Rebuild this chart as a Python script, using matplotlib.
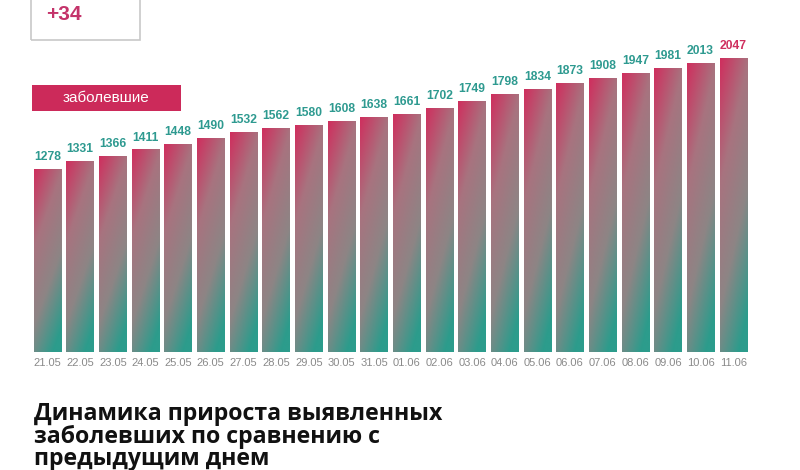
import matplotlib.pyplot as plt
import matplotlib
import numpy as np
from matplotlib.colors import LinearSegmentedColormap
from matplotlib.patches import Rectangle

dates = ['21.05', '22.05', '23.05', '24.05', '25.05', '26.05', '27.05', '28.05',
         '29.05', '30.05', '31.05', '01.06', '02.06', '03.06', '04.06', '05.06',
         '06.06', '07.06', '08.06', '09.06', '10.06', '11.06']
cases = [1278, 1331, 1366, 1411, 1448, 1490, 1532, 1562, 1580, 1608, 1638,
         1661, 1702, 1749, 1798, 1834, 1873, 1908, 1947, 1981, 2013, 2047]
delta = '+34'
series_label = 'заболевшие'
title = 'Динамика прироста выявленных\nзаболевших по сравнению с\nпредыдущим днем'

pink = '#cf2f5e'
teal = '#2c9c8c'
cmap = LinearSegmentedColormap.from_list('g', [pink, '#a8737f', '#8d8585', teal])

fig = plt.figure(figsize=(8, 4.7), dpi=100)
ax = fig.add_axes([0.039, 0.251, 0.898, 0.672])

x = np.arange(len(cases))
w = 0.84
bars = ax.bar(x, cases, width=w, color='none', edgecolor='none')

# diagonal gradient inside each bar: pink top-left -> teal bottom-right
gy, gx = np.mgrid[0:1:100j, 0:1:30j]
grad = np.clip(0.78 * gy + 0.32 * gx, 0, 1)
for b in bars:
    x0 = b.get_x()
    h = b.get_height()
    im = ax.imshow(grad, cmap=cmap, aspect='auto', origin='upper',
                   extent=(x0, x0 + w, 0, h), interpolation='bilinear', zorder=2)
    im.set_clip_path(b)

for i, v in enumerate(cases):
    c = pink if i == len(cases) - 1 else '#2e9a90'
    ax.text(i, v + 40, str(v), ha='center', va='bottom', fontsize=8.7,
            fontweight='bold', color=c, family='Liberation Sans')

ax.set_xlim(-0.5, len(cases) - 0.5)
ax.set_ylim(0, 2200)
ax.set_xticks(x)
ax.set_xticklabels(dates, fontsize=8, color='#8a8a8a', family='Liberation Sans')
ax.tick_params(axis='x', length=0, pad=4)
ax.set_yticks([])
for s in ax.spines.values():
    s.set_visible(False)

# "+34" box
fig.patches.append(Rectangle((31 / 800, 1 - 40 / 470), 109 / 800, 60 / 470,
                             transform=fig.transFigure, fill=False,
                             edgecolor='#c8c8c8', linewidth=1.2))
fig.text(46 / 800, 1 - 14 / 470, delta, fontsize=15, fontweight='bold',
         color='#c4336a', va='center', ha='left', family='Liberation Sans')

# series label
fig.patches.append(Rectangle((32 / 800, 1 - 111 / 470), 149 / 800, 26 / 470,
                             transform=fig.transFigure, color='#cc2a5a', linewidth=0))
fig.text(106 / 800, 1 - 98 / 470, series_label, fontsize=11, color='white',
         va='center', ha='center', family='Liberation Sans')

fig.text(34 / 800, 1 - 402 / 470, title, fontsize=16.7, fontweight='bold',
         color='#111111', va='top', ha='left', family='Open Sans',
         linespacing=0.92)

fig.savefig('out.png', dpi=100, facecolor='white')
